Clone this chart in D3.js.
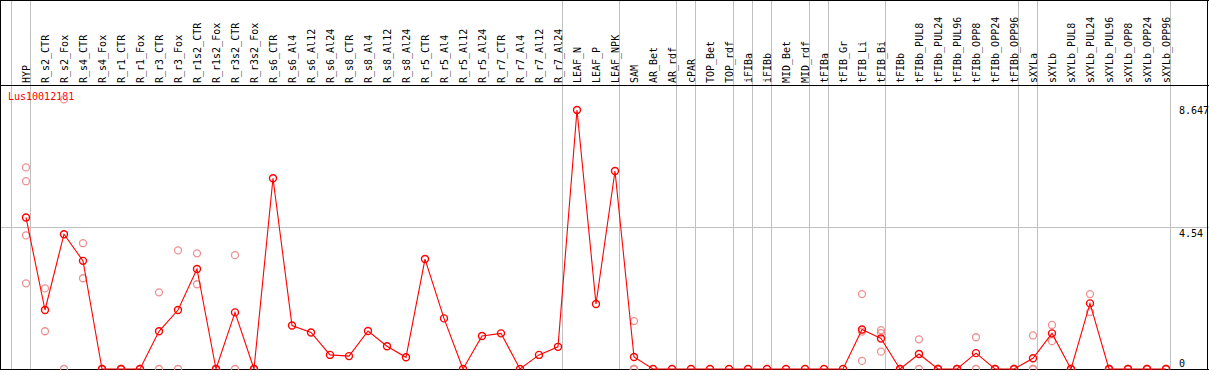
<!DOCTYPE html>
<html><head><meta charset="utf-8">
<script src="https://cdn.jsdelivr.net/npm/d3@7"></script>
<style>
html,body{margin:0;padding:0;background:#fff;}
svg{display:block;}
text{font-family:"DejaVu Sans Mono",monospace;font-size:10px;}
</style></head>
<body>
<script>
const title = "Lus10012181";
const categories = ["HYP","R_s2_CTR","R_s2_Fox","R_s4_CTR","R_s4_Fox","R_r1_CTR","R_r1_Fox","R_r3_CTR","R_r3_Fox","R_r1s2_CTR","R_r1s2_Fox","R_r3s2_CTR","R_r3s2_Fox","R_s6_CTR","R_s6_Al4","R_s6_Al12","R_s6_Al24","R_s8_CTR","R_s8_Al4","R_s8_Al12","R_s8_Al24","R_r5_CTR","R_r5_Al4","R_r5_Al12","R_r5_Al24","R_r7_CTR","R_r7_Al4","R_r7_Al12","R_r7_Al24","LEAF_N","LEAF_P","LEAF_NPK","SAM","AR_Bet","AR_rdf","cPAR","TOP_Bet","TOP_rdf","iFIBa","iFIBb","MID_Bet","MID_rdf","tFIBa","tFIB_Gr","tFIB_Li","tFIB_Bi","tFIBb","tFIBb_PUL8","tFIBb_PUL24","tFIBb_PUL96","tFIBb_OPP8","tFIBb_OPP24","tFIBb_OPP96","sXYLa","sXYLb","sXYLb_PUL8","sXYLb_PUL24","sXYLb_PUL96","sXYLb_OPP8","sXYLb_OPP24","sXYLb_OPP96"];
const means = [5.06,1.97,4.50,3.61,0,0,0,1.26,1.97,3.34,0,1.89,0,
  6.37,1.45,1.22,0.47,0.43,1.27,0.76,0.39,3.67,1.69,0,1.10,1.19,0,0.47,0.74,
  8.647,2.17,6.61,0.40,0,0,0,0,0,0,0,0,0,0,0,1.32,1.02,0,0.50,0,0,0.53,0,0,0.36,1.19,0,2.19,0,0,0,0];
const replicates = [[6.73,6.27,4.46,2.86],[2.69,1.26],[9.0,0],[4.20,3.03],[0,0],[0,0],[0,0],[2.56,0],[3.96,0],[3.86,2.83],[0,0],[3.80,0],[0,0],
  [],[],[],[],[],[],[],[],[],[],[],[],[],[],[],[],[],[],[],
  [1.60,0,0,0],[],[],[],[],[],[],[],[],[],[],[],
  [2.50,1.25,0.27],[1.30,1.20,0.58],[0,0],[0.99,0],[0,0],[0,0],[1.06,0],[0,0],[0,0],[1.12,0,0],[1.47,0.93],[0,0],[2.50,1.90],[0,0],[0,0],[0,0],[0,0]];
// index of the last column in each group (separator drawn after it)
const groupEnds = [-1,0,28,31,34,35,37,38,39,41,42,45,52,53,60];
const tickValues = [0,4.54,8.647];

const W = 1209, H = 370;
const headerY = 85, baseY = 369, topY = 110;
const svg = d3.select("body").append("svg").attr("width",W).attr("height",H);
svg.append("rect").attr("width",W).attr("height",H).attr("fill","#fff");

const step = 19, c0 = 26;
const x = d3.scaleLinear().domain([0,1]).range([c0, c0+step]);
const y = d3.scaleLinear().domain([0, d3.max(means)]).range([baseY, topY]);

// mid grid line
const midY = Math.round((headerY+baseY)/2)+0.5;
svg.append("line").attr("x1",0).attr("x2",W).attr("y1",midY).attr("y2",midY)
  .attr("stroke","#c0c0c0").attr("stroke-width",1);

// group separators
svg.selectAll("line.sep").data(groupEnds).join("line").attr("class","sep")
  .attr("x1",d=>x(d)+4.5).attr("x2",d=>x(d)+4.5).attr("y1",0).attr("y2",baseY)
  .attr("stroke","#c0c0c0").attr("stroke-width",1);

// borders
svg.append("line").attr("x1",0).attr("x2",W).attr("y1",0.5).attr("y2",0.5).attr("stroke","#000");
svg.append("line").attr("x1",0).attr("x2",W).attr("y1",headerY+0.5).attr("y2",headerY+0.5).attr("stroke","#000");
svg.append("line").attr("x1",0).attr("x2",W).attr("y1",baseY+0.5).attr("y2",baseY+0.5).attr("stroke","#000");
svg.append("line").attr("x1",0.5).attr("x2",0.5).attr("y1",0).attr("y2",H).attr("stroke","#000");
svg.append("line").attr("x1",W-1.5).attr("x2",W-1.5).attr("y1",0).attr("y2",H).attr("stroke","#000");

// column labels
svg.selectAll("text.cat").data(categories).join("text").attr("class","cat")
  .attr("transform",(d,i)=>`translate(${x(i)+4},${headerY-2}) rotate(-90)`)
  .attr("fill","#000").text(d=>d);

// title
svg.append("text").attr("x",8).attr("y",100).attr("fill","#ff0000").text(title);

// right axis
const axis = d3.axisRight(y).tickValues(tickValues).tickSize(0).tickPadding(0)
  .tickFormat(d=>String(d));
const ag = svg.append("g").attr("transform",`translate(1179,0)`).call(axis);
ag.select(".domain").remove();
ag.selectAll("text").attr("font-family","DejaVu Sans Mono").attr("font-size",10)
  .attr("fill","#000").attr("dy",d=>d===0?"-0.3em":"0.32em");

// replicates
const reps = [];
replicates.forEach((arr,i)=>arr.forEach(v=>reps.push({i,v})));
svg.selectAll("circle.rep").data(reps).join("circle").attr("class","rep")
  .attr("cx",d=>x(d.i)).attr("cy",d=>y(d.v)).attr("r",3.5)
  .attr("fill","none").attr("stroke","#ee9090").attr("stroke-width",1.3);

// line
const line = d3.line().x((d,i)=>x(i)).y(d=>y(d));
svg.append("path").datum(means).attr("d",line).attr("fill","none")
  .attr("stroke","#ff0000").attr("stroke-width",1.1);

svg.selectAll("circle.mean").data(means).join("circle").attr("class","mean")
  .attr("cx",(d,i)=>x(i)).attr("cy",d=>y(d)).attr("r",3.5)
  .attr("fill","none").attr("stroke","#ff0000").attr("stroke-width",1.4);
</script>
</body></html>
